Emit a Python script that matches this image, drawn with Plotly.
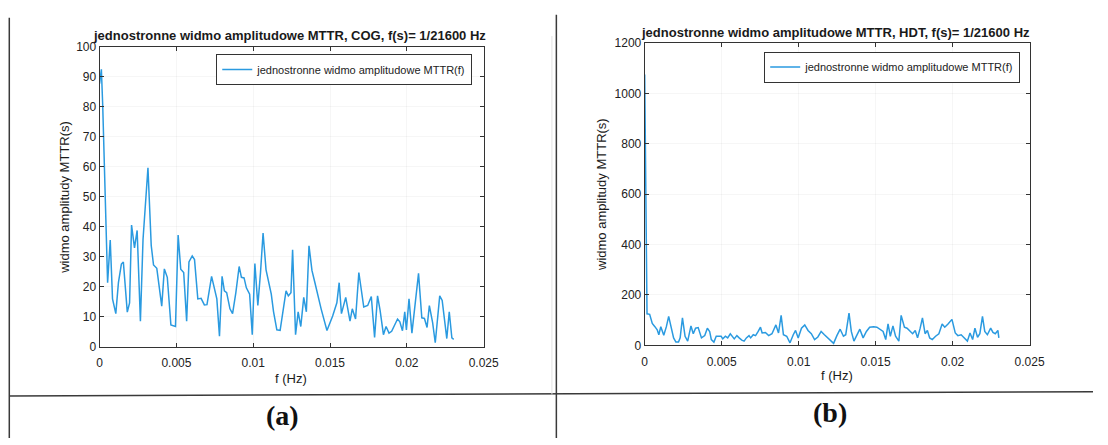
import plotly.graph_objects as go

# One-sided amplitude spectrum of MTTR, COG
cog_freq = [0.0, 0.000115, 0.000201, 0.000371, 0.000521, 0.000692, 0.000841, 0.001055,
            0.001225, 0.001418, 0.001546, 0.001802, 0.001951, 0.002080, 0.002272, 0.002443,
            0.002656, 0.002827, 0.003147, 0.003360, 0.003510, 0.003723, 0.004044, 0.004214,
            0.004406, 0.004641, 0.004940, 0.005111, 0.005282, 0.005474, 0.005666, 0.005816,
            0.006029, 0.006179, 0.006393, 0.006606, 0.006819, 0.006990, 0.007289, 0.007631,
            0.007802, 0.007972, 0.008122, 0.008271, 0.008485, 0.008656, 0.008869, 0.009083,
            0.009232, 0.009403, 0.009553, 0.009766, 0.009937, 0.010108, 0.010300, 0.010471,
            0.010641, 0.010834, 0.011004, 0.011175, 0.011324, 0.011538, 0.011751, 0.011965,
            0.012136, 0.012285, 0.012456, 0.012563, 0.012755, 0.012925, 0.013096, 0.013288,
            0.013459, 0.013630, 0.013822, 0.013993, 0.014206, 0.014420, 0.014633, 0.014800,
            0.015170, 0.015444, 0.015594, 0.015743, 0.016021, 0.016299, 0.016448, 0.016661,
            0.016875, 0.017195, 0.017451, 0.017686, 0.017900, 0.018092, 0.018258, 0.018476,
            0.018647, 0.018839, 0.019010, 0.019223, 0.019394, 0.019544, 0.019714, 0.019864,
            0.019971, 0.020141, 0.020330, 0.020760, 0.020974, 0.021145, 0.021315, 0.021465,
            0.021678, 0.021849, 0.022140, 0.022300, 0.022450, 0.022600, 0.022760, 0.022930,
            0.023050]
cog_amp = [87.7, 92.5, 80.7, 50.5, 21.4, 35.6, 16.0, 11.1,
           21.4, 27.6, 28.3, 11.6, 14.7, 40.6, 33.0, 38.8,
           8.6, 35.9, 59.7, 33.8, 27.3, 26.2, 13.6, 26.0,
           23.2, 7.3, 6.8, 37.3, 25.9, 24.8, 8.6, 28.3,
           30.3, 29.1, 16.0, 16.2, 14.0, 14.1, 23.5, 16.0,
           3.6, 23.5, 18.7, 18.1, 12.7, 11.1, 18.1, 26.8,
           23.2, 23.0, 19.7, 17.6, 4.1, 27.8, 13.8, 24.6,
           37.9, 25.7, 21.9, 17.6, 11.7, 5.7, 5.5, 12.7,
           18.7, 17.0, 18.1, 32.4, 4.1, 11.7, 6.8, 16.5,
           11.7, 33.7, 25.5, 21.9, 17.0, 12.7, 8.6, 5.5,
           10.3, 14.7, 21.4, 11.1, 16.5, 8.6, 12.7, 9.3,
           24.8, 13.3, 13.8, 16.8, 3.2, 17.0, 12.2, 4.1,
           6.8, 4.6, 5.2, 7.3, 9.3, 8.4, 5.4, 11.7,
           5.7, 16.0, 4.6, 24.5, 9.7, 9.5, 6.5, 13.8,
           8.1, 1.4, 17.0, 15.5, 8.0, 2.8, 11.7, 3.0,
           2.5]

# One-sided amplitude spectrum of MTTR, HDT
hdt_freq = [0.0, 0.000150, 0.000322, 0.000492, 0.000662, 0.000812, 0.000918, 0.001046,
            0.001238, 0.001408, 0.001557, 0.001727, 0.001877, 0.002026, 0.002196, 0.002303,
            0.002452, 0.002622, 0.002792, 0.003005, 0.003155, 0.003304, 0.003474, 0.003687,
            0.003900, 0.004070, 0.004220, 0.004326, 0.004496, 0.004646, 0.004795, 0.004965,
            0.005072, 0.005242, 0.005391, 0.005561, 0.005817, 0.005987, 0.006137, 0.006307,
            0.006456, 0.006605, 0.006776, 0.006882, 0.007052, 0.007202, 0.007372, 0.007521,
            0.007628, 0.007841, 0.008054, 0.008267, 0.008523, 0.008693, 0.008863, 0.009012,
            0.009225, 0.009438, 0.009651, 0.009801, 0.009971, 0.010184, 0.010397, 0.010610,
            0.010823, 0.011036, 0.011249, 0.011462, 0.011675, 0.011888, 0.012101, 0.012271,
            0.012484, 0.012697, 0.012910, 0.013059, 0.013272, 0.013421, 0.013592, 0.013975,
            0.014188, 0.014401, 0.014614, 0.014870, 0.015083, 0.015274, 0.015487, 0.015658,
            0.015807, 0.015956, 0.016126, 0.016297, 0.016510, 0.016659, 0.016872, 0.017042,
            0.017234, 0.017404, 0.017575, 0.017724, 0.017894, 0.018043, 0.018214, 0.018363,
            0.018512, 0.018683, 0.018896, 0.019109, 0.019322, 0.019492, 0.019705, 0.019960,
            0.020173, 0.020344, 0.020557, 0.020770, 0.020962, 0.021132, 0.021303, 0.021452,
            0.021622, 0.021771, 0.021942, 0.022091, 0.022261, 0.022474, 0.022623, 0.022772,
            0.022943, 0.023007]
hdt_amp = [1075, 125, 123, 87, 74, 61.5, 42, 74,
           40, 74, 115, 68, 29.5, 12.8, 12.8, 29.5,
           109, 36, 16.7, 77, 46, 68, 70.5, 29.5,
           38.5, 68, 55, 23, 12.8, 36, 36, 36,
           25.6, 36, 29.5, 46, 25.6, 38.5, 29.5, 20.5,
           16.7, 29.5, 38.5, 29.5, 42, 38.5, 55, 72,
           49, 51, 38.5, 46, 81, 49, 119, 42,
           36, 10, 42, 59, 29.5, 68, 81, 59,
           46, 23, 33, 55, 42, 29.5, 16.7, 7.7,
           38.5, 64, 36, 42, 128, 55, 16.7, 64,
           29.5, 55, 72, 74, 72, 64, 55, 23,
           85, 36, 77, 36, 16.7, 119, 72, 68,
           55, 46, 59, 29.5, 68, 109, 46, 59,
           29.5, 23, 36, 46, 85, 72, 85, 103,
           49, 38.5, 42, 29.5, 16.7, 49, 23, 68,
           32, 46, 115, 55, 42, 68, 51, 46,
           59, 29.5]

x_ticks = [0, 0.005, 0.01, 0.015, 0.02, 0.025]
x_tick_labels = ["0", "0.005", "0.01", "0.015", "0.02", "0.025"]
cog_y_ticks = list(range(0, 101, 10))
hdt_y_ticks = list(range(0, 1201, 200))

legend_name = "jednostronne widmo amplitudowe MTTR(f)"
title_cog = "jednostronne widmo amplitudowe MTTR, COG, f(s)= 1/21600 Hz"
title_hdt = "jednostronne widmo amplitudowe MTTR, HDT, f(s)= 1/21600 Hz"
y_title = "widmo amplitudy MTTR(s)"
x_title = "f (Hz)"

W, H = 1108, 445
LINE = "#2a9ae0"
AX = "#333333"
FONT = "Liberation Sans, Arial, sans-serif"


def px(x):
    return x / W


def py(y):
    return 1 - y / H


fig = go.Figure()
fig.add_trace(go.Scatter(x=cog_freq, y=cog_amp, mode="lines", name=legend_name,
                         line=dict(color=LINE, width=1.5), xaxis="x", yaxis="y",
                         legend="legend"))
fig.add_trace(go.Scatter(x=hdt_freq, y=hdt_amp, mode="lines", name=legend_name,
                         line=dict(color=LINE, width=1.5), xaxis="x2", yaxis="y2",
                         legend="legend2"))

axis_common = dict(showline=True, linecolor=AX, linewidth=1, mirror="ticks",
                   ticks="inside", ticklen=4, tickcolor=AX, showgrid=True,
                   gridcolor="rgba(0,0,0,0.035)", zeroline=False,
                   tickfont=dict(family=FONT, size=12, color="#222"))

legend_common = dict(xanchor="right", yanchor="top", bgcolor="white",
                     bordercolor=AX, borderwidth=1, itemwidth=30,
                     font=dict(family=FONT, size=11, color="#222"))

fig.update_layout(
    width=W, height=H, margin=dict(l=0, r=0, t=0, b=0),
    paper_bgcolor="white", plot_bgcolor="white",
    xaxis=dict(domain=[px(98.2), px(488.6)], range=[0, 0.025], tickvals=x_ticks,
               ticktext=x_tick_labels, anchor="y", ticklabelstandoff=5, **axis_common),
    yaxis=dict(domain=[py(351), py(41)], range=[0, 100], tickvals=cog_y_ticks,
               anchor="x", **axis_common),
    xaxis2=dict(domain=[px(652.3), px(1043.5)], range=[0, 0.025], tickvals=x_ticks,
                ticktext=x_tick_labels, anchor="y2", ticklabelstandoff=5, **axis_common),
    yaxis2=dict(domain=[py(349.3), py(37.3)], range=[0, 1200], tickvals=hdt_y_ticks,
                anchor="x2", **axis_common),
    legend=dict(x=px(477), y=py(48.5), **legend_common),
    legend2=dict(x=px(1034), y=py(46), **legend_common),
    showlegend=True,
)

annotations = [
    dict(text=f"<b>{title_cog}</b>", x=px(291), y=py(29.3), font=dict(size=13)),
    dict(text=f"<b>{title_hdt}</b>", x=px(846), y=py(26.7), font=dict(size=13)),
    dict(text=y_title, x=px(62.5), y=py(196.5), textangle=-90, font=dict(size=13)),
    dict(text=y_title, x=px(609), y=py(194), textangle=-90, font=dict(size=13)),
    dict(text=x_title, x=px(293), y=py(383.3), font=dict(size=13)),
    dict(text=x_title, x=px(848), y=py(380), font=dict(size=13)),
]
for a in annotations:
    a.update(xref="paper", yref="paper", xanchor="center", yanchor="middle",
             showarrow=False)
    a["font"].update(family=FONT, color="#1a1a1a")

panel_font = dict(family="Liberation Serif, Times New Roman, serif", size=28, color="#111")
annotations += [
    dict(text="<b>(a)</b>", x=px(284.6), y=py(421.7), xref="paper", yref="paper",
         showarrow=False, xanchor="center", yanchor="middle", font=panel_font),
    dict(text="<b>(b)</b>", x=px(841), y=py(418.3), xref="paper", yref="paper",
         showarrow=False, xanchor="center", yanchor="middle", font=panel_font),
]
fig.update_layout(annotations=annotations)

# table frame around the two panels
shapes = [
    dict(type="line", x0=px(6.4), x1=px(6.4), y0=py(11), y1=py(445),
         line=dict(color="#3a3a3a", width=1.5)),
    dict(type="line", x0=px(562.5), x1=px(562.5), y0=py(8), y1=py(445),
         line=dict(color="#3a3a3a", width=1.5)),
    dict(type="line", x0=px(6.4), x1=px(1108), y0=py(401.7), y1=py(397.3),
         line=dict(color="#3a3a3a", width=1.5)),
    dict(type="line", x0=px(558), x1=px(558), y0=py(30), y1=py(400),
         line=dict(color="#e2e2e2", width=1)),
]
for s in shapes:
    s.update(xref="paper", yref="paper")
fig.update_layout(shapes=shapes)

fig.write_html("out.html")
